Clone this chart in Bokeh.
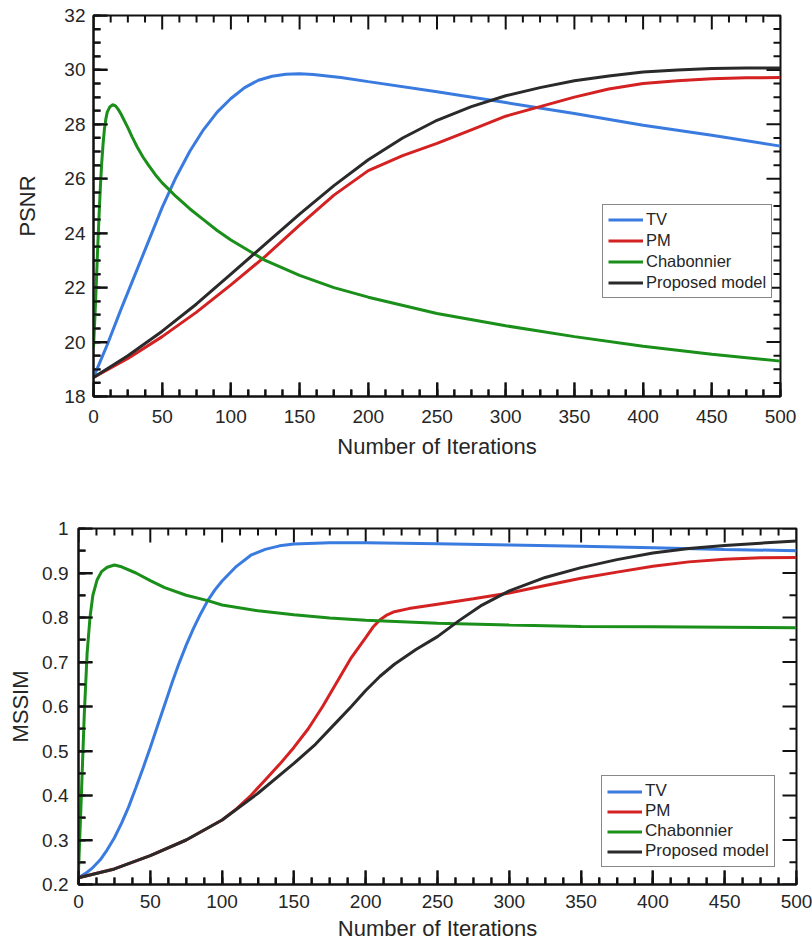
from bokeh.plotting import figure
from bokeh.layouts import column
from bokeh.models import Range1d, SingleIntervalTicker, CustomJSTickFormatter
from bokeh.embed import file_html
from bokeh.resources import INLINE

# ---------------- data: PSNR ----------------
series_names = ["TV", "PM", "Chabonnier", "Proposed model"]
colors = ["#3a7be0", "#d42121", "#1a8f1a", "#2a2a2a"]

psnr_tv_x = [0, 5, 10, 20, 30, 40, 50, 60, 70, 80, 90, 100, 110, 120, 130, 140, 150, 160, 180, 200, 250, 300, 350, 400, 450, 500]
psnr_tv_y = [18.7, 19.3, 19.9, 21.2, 22.45, 23.7, 24.95, 26.05, 27.0, 27.8, 28.45, 28.95, 29.35, 29.62, 29.77, 29.84, 29.86, 29.83, 29.72, 29.57, 29.2, 28.8, 28.4, 27.97, 27.6, 27.2]

psnr_pm_x = [0, 25, 50, 75, 100, 125, 150, 175, 200, 225, 250, 275, 300, 325, 350, 375, 400, 425, 450, 475, 500]
psnr_pm_y = [18.7, 19.4, 20.2, 21.1, 22.1, 23.15, 24.3, 25.4, 26.3, 26.85, 27.3, 27.8, 28.3, 28.65, 29.0, 29.3, 29.5, 29.6, 29.68, 29.71, 29.72]

psnr_ch_x = [0, 1, 2, 3, 4, 5, 6, 7, 8, 9, 10, 12, 14, 16, 18, 20, 22, 25, 28, 32, 36, 40, 45, 50, 55, 60, 70, 80, 90, 100, 125, 150, 175, 200, 250, 300, 350, 400, 450, 500]
psnr_ch_y = [19.8, 20.9, 22.1, 23.4, 24.6, 25.7, 26.6, 27.3, 27.85, 28.2, 28.45, 28.65, 28.72, 28.68, 28.55, 28.38, 28.18, 27.88, 27.55, 27.15, 26.8, 26.5, 26.15, 25.85, 25.6, 25.35, 24.9, 24.5, 24.1, 23.75, 23.0, 22.45, 22.0, 21.65, 21.05, 20.6, 20.2, 19.85, 19.55, 19.3]

psnr_pr_x = [0, 25, 50, 75, 100, 125, 150, 175, 200, 225, 250, 275, 300, 325, 350, 375, 400, 425, 450, 475, 500]
psnr_pr_y = [18.7, 19.5, 20.4, 21.4, 22.5, 23.6, 24.7, 25.75, 26.7, 27.5, 28.15, 28.65, 29.05, 29.35, 29.6, 29.78, 29.92, 30.0, 30.05, 30.07, 30.07]

# ---------------- data: MSSIM ----------------
ssim_tv_x = [0, 5, 10, 15, 20, 25, 30, 35, 40, 45, 50, 55, 60, 65, 70, 75, 80, 85, 90, 95, 100, 110, 120, 130, 140, 150, 175, 200, 250, 300, 350, 400, 450, 500]
ssim_tv_y = [0.215, 0.225, 0.238, 0.255, 0.278, 0.305, 0.338, 0.375, 0.418, 0.462, 0.508, 0.556, 0.604, 0.652, 0.697, 0.738, 0.775, 0.808, 0.838, 0.862, 0.882, 0.915, 0.94, 0.953, 0.961, 0.965, 0.968, 0.968, 0.966, 0.963, 0.96, 0.957, 0.953, 0.95]

ssim_pm_x = [0, 25, 50, 75, 100, 110, 120, 130, 140, 150, 160, 170, 180, 190, 200, 205, 210, 215, 220, 230, 250, 275, 300, 325, 350, 375, 400, 425, 450, 475, 500]
ssim_pm_y = [0.215, 0.235, 0.265, 0.3, 0.345, 0.37, 0.4, 0.435, 0.47, 0.508, 0.55, 0.6, 0.655, 0.71, 0.755, 0.778, 0.795, 0.806, 0.813, 0.82, 0.83, 0.842, 0.855, 0.872, 0.888, 0.902, 0.915, 0.925, 0.931, 0.934, 0.935]

ssim_ch_x = [0, 2, 4, 6, 8, 10, 13, 16, 20, 25, 30, 40, 50, 60, 75, 90, 100, 125, 150, 175, 200, 250, 300, 350, 400, 450, 500]
ssim_ch_y = [0.23, 0.4, 0.58, 0.72, 0.8, 0.85, 0.885, 0.903, 0.913, 0.918, 0.914, 0.9, 0.883, 0.867, 0.85, 0.838, 0.828, 0.815, 0.806, 0.799, 0.794, 0.787, 0.783, 0.78, 0.779, 0.778, 0.777]

ssim_pr_x = [0, 25, 50, 75, 100, 125, 150, 165, 180, 190, 200, 210, 220, 235, 250, 265, 280, 300, 325, 350, 375, 400, 425, 450, 475, 500]
ssim_pr_y = [0.215, 0.235, 0.265, 0.3, 0.345, 0.405, 0.472, 0.515, 0.566, 0.6, 0.636, 0.668, 0.695, 0.728, 0.757, 0.793, 0.826, 0.86, 0.89, 0.912, 0.93, 0.945, 0.955, 0.962, 0.967, 0.972]

x_label = "Number of Iterations"
TXT = "#262626"
TICK = "#111111"


def style_axis(ax, ticker, tick_standoff, font):
    ax.ticker = ticker
    ax.axis_line_color = TICK
    ax.axis_line_width = 2
    ax.major_tick_line_color = TICK
    ax.minor_tick_line_color = TICK
    ax.major_tick_line_width = 2
    ax.minor_tick_line_width = 2
    ax.major_tick_in = 14
    ax.major_tick_out = 0
    ax.minor_tick_in = 7
    ax.minor_tick_out = 0
    if font is not None:
        ax.major_label_text_font = font
        ax.axis_label_text_font = font
    ax.major_label_text_color = TXT
    ax.major_label_text_font_size = "19px"
    ax.axis_label_text_font_style = "normal"
    ax.axis_label_text_color = TXT
    ax.axis_label_text_font_size = "22px"
    ax.major_label_standoff = tick_standoff


def tick_values(lo, hi, step, n_minor):
    n = int(round((hi - lo) / step))
    major = [lo + i * step for i in range(n + 1)]
    sub = step / n_minor
    minor = [lo + i * sub for i in range(n * n_minor + 1) if i % n_minor != 0]
    return major, minor


def make_fig(width, height, borders, yr, xticks, yticks, ylab, series, legend_loc, legend_font,
             legend_row, ylab_standoff, ytick_standoff, xtick_standoff, xlab_standoff,
             yfmt=None, font=None):
    p = figure(width=width, height=height, output_backend="svg", toolbar_location=None,
               x_range=Range1d(0, 500), y_range=Range1d(*yr))
    p.frame_align = False
    bl, br, bt, bb = borders
    p.min_border_left, p.min_border_right, p.min_border_top, p.min_border_bottom = borders
    p.xgrid.grid_line_alpha = 0
    p.ygrid.grid_line_alpha = 0
    p.outline_line_color = TICK
    p.outline_line_width = 2

    xa = p.xaxis[0]
    ya = p.yaxis[0]
    style_axis(xa, SingleIntervalTicker(interval=xticks[0], num_minor_ticks=xticks[1]), xtick_standoff, font)
    style_axis(ya, SingleIntervalTicker(interval=yticks[0], num_minor_ticks=yticks[1]), ytick_standoff, font)
    xa.axis_label = x_label
    xa.axis_label_standoff = xlab_standoff
    ya.axis_label = ylab
    ya.axis_label_standoff = ylab_standoff
    if yfmt is not None:
        ya.formatter = yfmt

    # inward tick marks on all four sides (MATLAB box style)
    x0, x1 = 0, 500
    y0, y1 = yr
    frame_w = width - bl - br
    frame_h = height - bt - bb
    ux = (x1 - x0) / frame_w   # data units per pixel
    uy = (y1 - y0) / frame_h
    xmaj, xmin = tick_values(x0, x1, xticks[0], xticks[1])
    ymaj, ymin = tick_values(y0, y1, yticks[0], yticks[1])
    for vals, ln in ((xmaj, 14), (xmin, 7)):
        n = len(vals)
        p.segment(x0=vals, y0=[y1] * n, x1=vals, y1=[y1 - ln * uy] * n, line_color=TICK, line_width=2)
        p.segment(x0=vals, y0=[y0] * n, x1=vals, y1=[y0 + ln * uy] * n, line_color=TICK, line_width=2)
    for vals, ln in ((ymaj, 14), (ymin, 7)):
        n = len(vals)
        p.segment(x0=[x1] * n, y0=vals, x1=[x1 - ln * ux] * n, y1=vals, line_color=TICK, line_width=2)
        p.segment(x0=[x0] * n, y0=vals, x1=[x0 + ln * ux] * n, y1=vals, line_color=TICK, line_width=2)

    for (xs, ys), name, c in zip(series, series_names, colors):
        p.line(xs, ys, line_color=c, line_width=3, legend_label=name)

    lg = p.legend[0]
    lg.location = legend_loc
    lg.border_line_color = TICK
    lg.border_line_width = 1.5
    lg.background_fill_alpha = 1.0
    if font is not None:
        lg.label_text_font = font
    lg.label_text_font_size = legend_font
    lg.label_text_color = TXT
    lg.glyph_width = 35
    lg.glyph_height = legend_row[0]
    lg.label_height = legend_row[0]
    lg.label_standoff = 3
    lg.spacing = legend_row[1]
    lg.padding = 5
    lg.margin = 0
    return p


p1 = make_fig(812, 470, (93, 32, 15, 74), (18, 32), (50, 4), (2, 4), "PSNR",
              [(psnr_tv_x, psnr_tv_y), (psnr_pm_x, psnr_pm_y), (psnr_ch_x, psnr_ch_y), (psnr_pr_x, psnr_pr_y)],
              (509, 98), "16.5px", (19, 2), ylab_standoff=21, ytick_standoff=8, xtick_standoff=13, xlab_standoff=8,
              font=None)

fmt = CustomJSTickFormatter(code="return Number(tick.toFixed(2)).toString();")
p2 = make_fig(812, 473, (78, 16, 58, 58), (0.2, 1.0), (50, 4), (0.1, 2), "MSSIM",
              [(ssim_tv_x, ssim_tv_y), (ssim_pm_x, ssim_pm_y), (ssim_ch_x, ssim_ch_y), (ssim_pr_x, ssim_pr_y)],
              (523, 17), "17px", (17, 0), ylab_standoff=6, ytick_standoff=10, xtick_standoff=10, xlab_standoff=5,
              yfmt=fmt, font="Liberation Sans")

layout = column(p1, p2, spacing=0)
open("out.html", "w").write(file_html(layout, INLINE))
